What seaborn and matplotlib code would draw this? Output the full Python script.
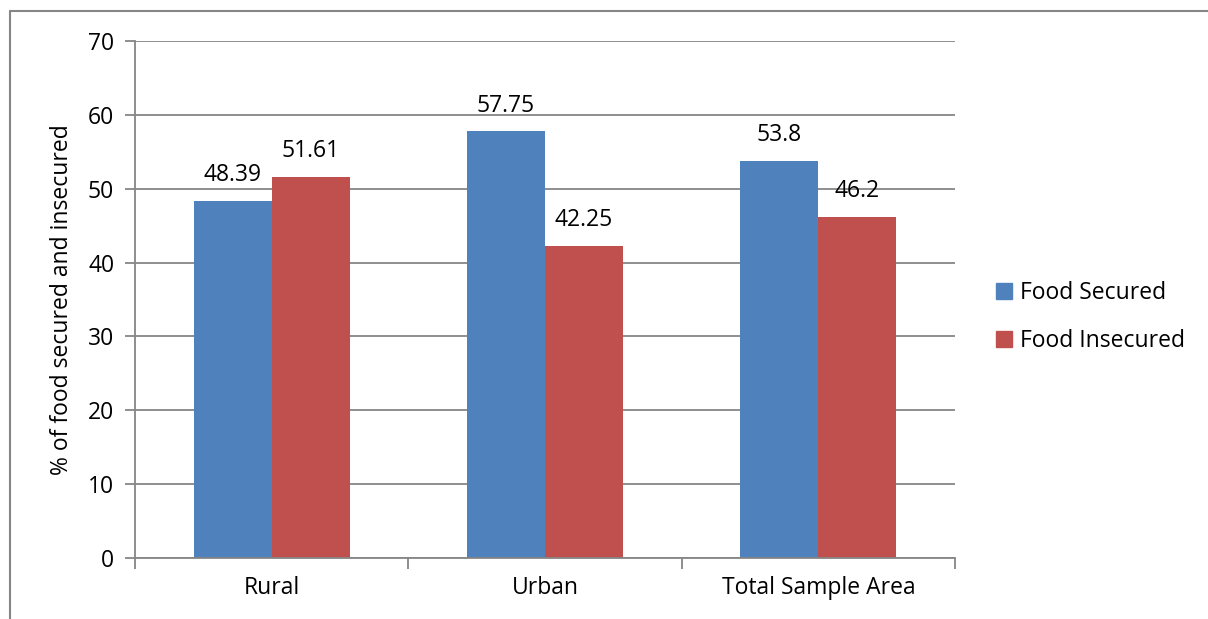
import matplotlib
matplotlib.use("Agg")
import matplotlib.pyplot as plt
from matplotlib.lines import Line2D
import seaborn as sns
import pandas as pd

areas = ["Rural", "Urban", "Total Sample Area"]
food_secured = [48.39, 57.75, 53.8]
food_insecured = [51.61, 42.25, 46.2]
series_names = ["Food Secured", "Food Insecured"]
y_ticks = [0, 10, 20, 30, 40, 50, 60, 70]

df = pd.DataFrame({
    "Area": areas * 2,
    "Series": [series_names[0]] * 3 + [series_names[1]] * 3,
    "Value": food_secured + food_insecured,
})

sns.set_theme(style="white")
plt.rcParams["font.family"] = ["Open Sans", "DejaVu Sans"]
plt.rcParams["text.color"] = "black"
plt.rcParams["axes.labelcolor"] = "black"
plt.rcParams["xtick.labelcolor"] = "black"
plt.rcParams["ytick.labelcolor"] = "black"
FS = 16.5

W, H = 1208, 619
fig = plt.figure(figsize=(W / 100, H / 100), dpi=100)
ax = fig.add_axes([135 / W, 1 - 558 / H, (955 - 135) / W, (558 - 41) / H])

palette = {"Food Secured": "#4F81BD", "Food Insecured": "#C0504D"}
sns.barplot(data=df, x="Area", y="Value", hue="Series", palette=palette,
            width=2 / 3.5, saturation=1, ax=ax, legend=False, linewidth=0)

ax.set_ylim(0, 70)
ax.set_xlim(-0.5, 2.5)
ax.set_yticks(y_ticks)
ax.set_yticklabels([str(t) for t in y_ticks])
ax.grid(axis="y", color="#868686", linewidth=1.3)
ax.set_axisbelow(True)

for s in ["top", "right"]:
    ax.spines[s].set_visible(False)
for s in ["left", "bottom"]:
    ax.spines[s].set_color("#868686")
    ax.spines[s].set_linewidth(1.3)

ax.tick_params(axis="y", length=7, width=1.3, color="#868686", direction="out",
               labelsize=FS, pad=8, left=True)
ax.tick_params(axis="x", length=0, labelsize=FS, pad=13)
# category separators on the x axis
ax.set_xticks([-0.5, 0.5, 1.5, 2.5], minor=True)
ax.tick_params(axis="x", which="minor", length=8, width=1.3, color="#868686",
               direction="out", bottom=True)

ax.set_xlabel("")
ax.set_ylabel("% of food secured and insecured", fontsize=FS, labelpad=10)

for cont in ax.containers:
    labels = [f"{v:g}" for v in cont.datavalues]
    ax.bar_label(cont, labels=labels, padding=10, fontsize=FS)

handles = [plt.Rectangle((0, 0), 1, 1, color=palette[n]) for n in series_names]
fig.legend(handles, series_names, loc="center left",
           bbox_to_anchor=(975 / W, 1 - 317 / H), frameon=False, fontsize=FS,
           handlelength=0.7, handleheight=0.7, handletextpad=0.35,
           labelspacing=1.05)

# chart frame
frame = "#868686"
fig.add_artist(Line2D([10 / W, 10 / W], [0, 1 - 11 / H], color=frame, lw=1.5))
fig.add_artist(Line2D([10 / W, 1], [1 - 11 / H, 1 - 11 / H], color=frame, lw=1.5))

fig.savefig("out.png", dpi=100, facecolor="white")
